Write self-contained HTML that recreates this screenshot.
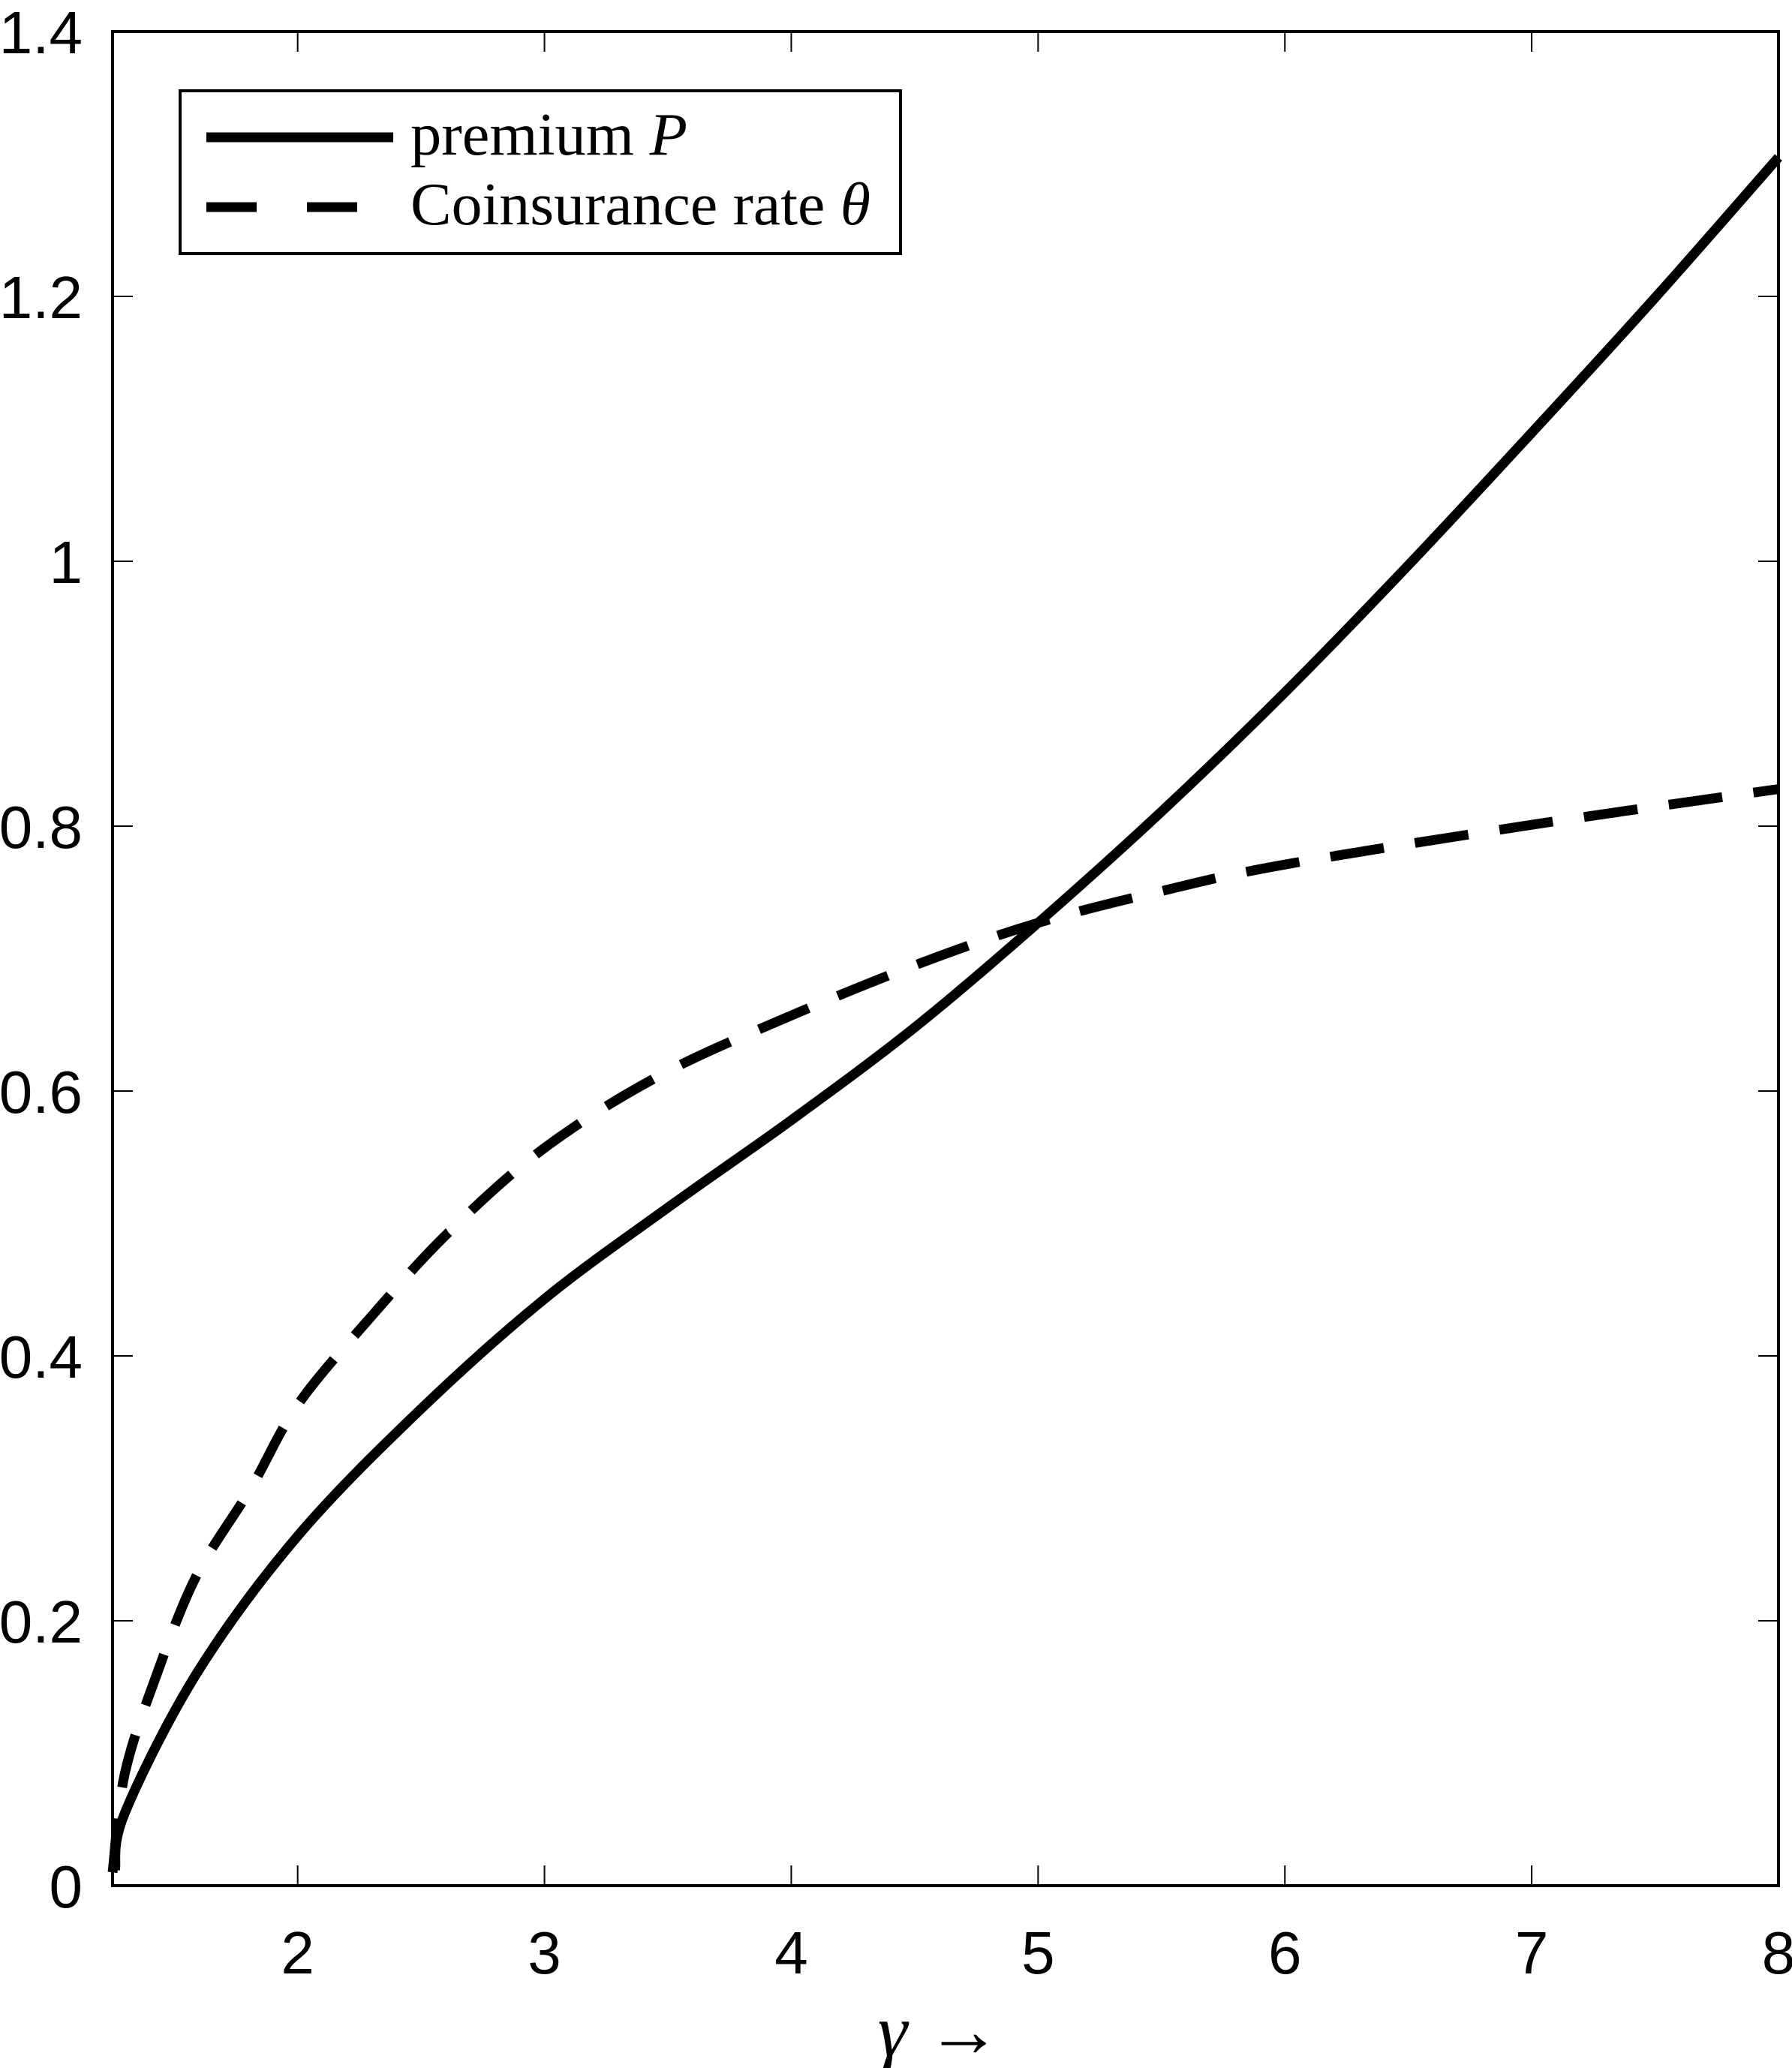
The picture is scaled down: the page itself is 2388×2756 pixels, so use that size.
<!DOCTYPE html>
<html><head><meta charset="utf-8"><style>
html,body{margin:0;padding:0;background:#fff;}
svg{display:block;}
</style></head><body>
<svg id="chart" width="2388" height="2756" viewBox="0 0 2388 2756" xmlns="http://www.w3.org/2000/svg">
<g id="axes"></g>
<g id="series"></g>
<rect x="150" y="42" width="2220" height="2471" fill="none" stroke="#000" stroke-width="4"/>
<g>
<rect x="240" y="121" width="960" height="217" fill="#fff" stroke="#000" stroke-width="4"/>
<line x1="275" y1="183" x2="524" y2="183" stroke="#000" stroke-width="13"/>
<text x="547" y="206" font-family="Liberation Serif, serif" font-size="80" textLength="369" lengthAdjust="spacingAndGlyphs">premium <tspan font-style="italic">P</tspan></text>
<line x1="275" y1="276" x2="524" y2="276" stroke="#000" stroke-width="13" stroke-dasharray="67 67"/>
<text x="547" y="299" font-family="Liberation Serif, serif" font-size="80" textLength="613" lengthAdjust="spacingAndGlyphs">Coinsurance rate <tspan font-style="italic">θ</tspan></text>
</g>
<text x="1252" y="2740" text-anchor="middle" font-family="Liberation Serif, serif" font-size="100"><tspan font-style="italic">γ</tspan> →</text>
</svg>
<script>
const xTicks = [2,3,4,5,6,7,8];
const yTicks = [0,0.2,0.4,0.6,0.8,1,1.2,1.4];
const yTickLabels = ["0","0.2","0.4","0.6","0.8","1","1.2","1.4"];
const gammaP = [1.26,1.30,1.59,2,2.5,3,3.5,4,4.5,5,5.5,6,6.5,7,7.5,8];
const premiumP = [0.012,0.055,0.16,0.264,0.36,0.443,0.512,0.578,0.648,0.727,0.811,0.901,0.997,1.097,1.199,1.305];
const gammaT = [1.25,1.3,1.43,1.59,1.81,2,2.29,2.61,3,3.47,4,4.53,5,5.5,6,7,8];
const thetaT = [0.01,0.085,0.16,0.234,0.30,0.363,0.428,0.493,0.557,0.612,0.657,0.697,0.727,0.751,0.771,0.801,0.828];
const NS='http://www.w3.org/2000/svg';
const L=150,R=2370,T=42,B=2513,XMIN=1.25,XMAX=8,YMIN=0,YMAX=1.4;
function sx(v){return L+(v-XMIN)/(XMAX-XMIN)*(R-L);}
function sy(v){return B-(v-YMIN)/(YMAX-YMIN)*(B-T);}
const axes=document.getElementById('axes');
function mk(tag,attrs,parent){const e=document.createElementNS(NS,tag);for(const k in attrs)e.setAttribute(k,attrs[k]);parent.appendChild(e);return e;}
xTicks.forEach(v=>{
  const x=sx(v);
  const t1=mk('line',{x1:x,y1:B,x2:x,y2:B-27,stroke:'#000','stroke-width':2},axes);
  
  
  const t2=mk('line',{x1:x,y1:T,x2:x,y2:T+27,stroke:'#000','stroke-width':2},axes);
  
  
  const tx=mk('text',{x:x,y:2630,'text-anchor':'middle','font-family':'Liberation Sans, sans-serif','font-size':80},axes);
  tx.textContent=String(v);
  
  
});
yTicks.forEach((v,i)=>{
  const y=sy(v);
  const t1=mk('line',{x1:L,y1:y,x2:L+27,y2:y,stroke:'#000','stroke-width':2},axes);
  
  
  const t2=mk('line',{x1:R,y1:y,x2:R-27,y2:y,stroke:'#000','stroke-width':2},axes);
  
  
  const tx=mk('text',{x:110,y:y+29,'text-anchor':'end','font-family':'Liberation Sans, sans-serif','font-size':80},axes);
  tx.textContent=yTickLabels[i];
  
  
});
function pathFor(xs,ys){
  const p=xs.map((v,i)=>[sx(v),sy(ys[i])]);
  let d='M'+p[0][0]+','+p[0][1];
  for(let i=0;i<p.length-1;i++){
    const p0=p[Math.max(0,i-1)],p1=p[i],p2=p[i+1],p3=p[Math.min(p.length-1,i+2)];
    const c1=[p1[0]+(p2[0]-p0[0])/6,p1[1]+(p2[1]-p0[1])/6];
    const c2=[p2[0]-(p3[0]-p1[0])/6,p2[1]-(p3[1]-p1[1])/6];
    d+=' C'+c1[0]+','+c1[1]+' '+c2[0]+','+c2[1]+' '+p2[0]+','+p2[1];
  }
  return d;
}
const series=document.getElementById('series');
const s1=mk('path',{d:pathFor(gammaP,premiumP),fill:'none',stroke:'#000','stroke-width':13},series);


const s2=mk('path',{d:pathFor(gammaT,thetaT),fill:'none',stroke:'#000','stroke-width':13,'stroke-dasharray':'72 42'},series);


</script>
</body></html>
